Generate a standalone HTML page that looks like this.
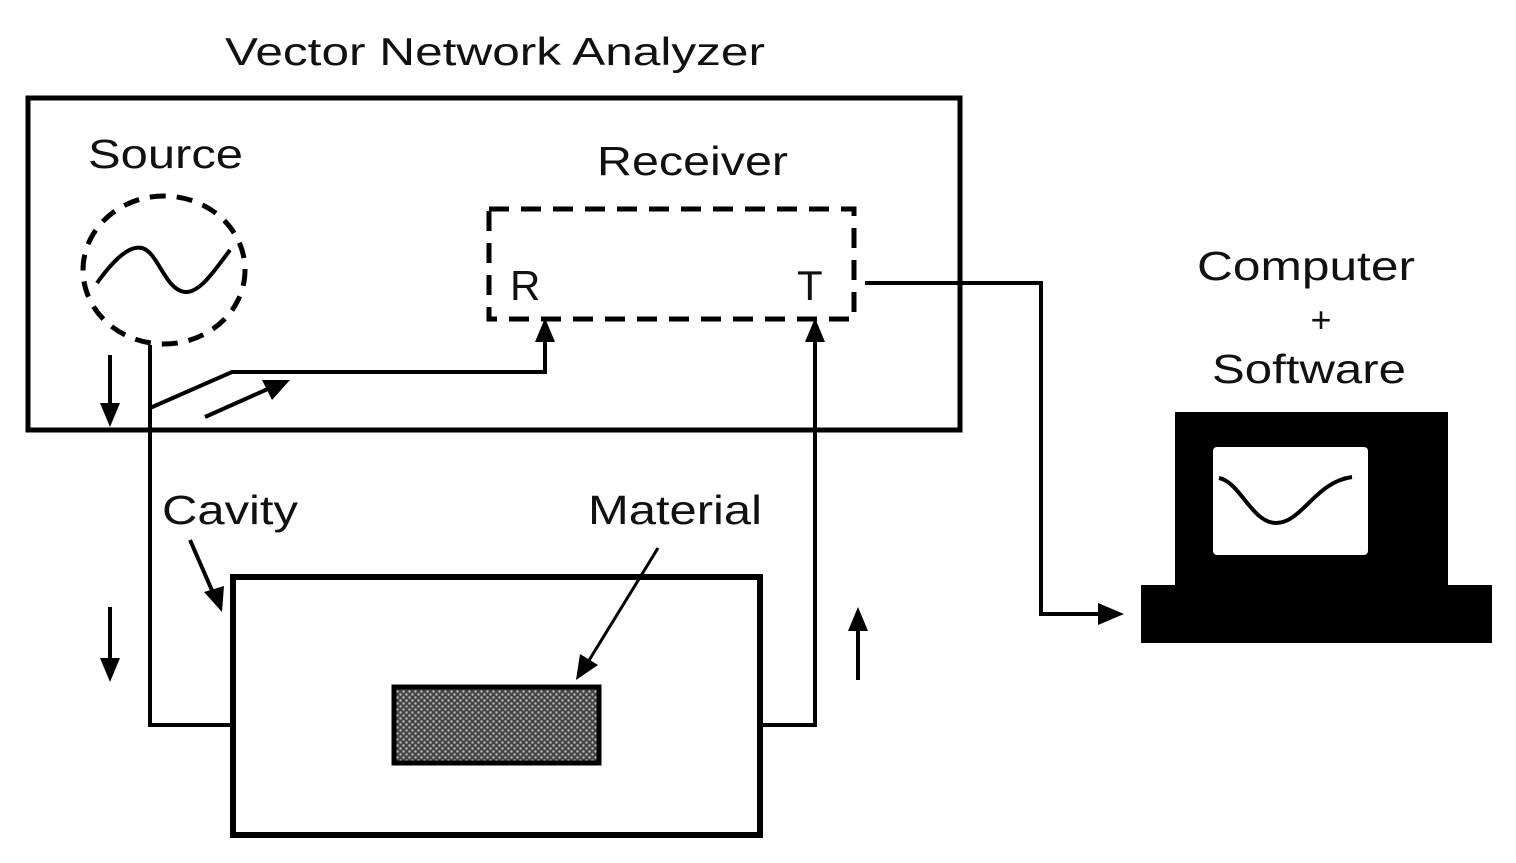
<!DOCTYPE html>
<html><head><style>
html,body{margin:0;padding:0;background:#fff;}
svg{display:block;}
text{font-family:"Liberation Sans",sans-serif;fill:#111;}
</style></head><body>
<svg width="1516" height="863" viewBox="0 0 1516 863" xmlns="http://www.w3.org/2000/svg">
<defs>
<pattern id="dots" width="6" height="6" patternUnits="userSpaceOnUse">
<rect width="6" height="6" fill="#444"/>
<circle cx="1.5" cy="1.5" r="1.2" fill="#bbb"/>
<circle cx="4.5" cy="4.5" r="1.2" fill="#bbb"/>
</pattern>
</defs>
<text x="225" y="65" font-size="39" textLength="540" lengthAdjust="spacingAndGlyphs">Vector Network Analyzer</text>
<rect x="28" y="98" width="932" height="332" fill="none" stroke="#000" stroke-width="5"/>
<text x="88" y="168" font-size="41" textLength="155" lengthAdjust="spacingAndGlyphs">Source</text>
<text x="597" y="175" font-size="41" textLength="191" lengthAdjust="spacingAndGlyphs">Receiver</text>
<ellipse cx="164" cy="270" rx="81" ry="74" fill="none" stroke="#000" stroke-width="5" stroke-dasharray="16,11"/>
<path d="M97,283 C115,258 130,245 142,248 C158,252 165,290 185,292 C200,293 215,270 230,250" fill="none" stroke="#000" stroke-width="4"/>
<rect x="489" y="209" width="365" height="110" fill="none" stroke="#000" stroke-width="5" stroke-dasharray="20,12"/>
<text x="510" y="300" font-size="42">R</text>
<text x="797" y="300" font-size="42">T</text>
<polyline points="150,345 150,725 233,725" fill="none" stroke="#000" stroke-width="4"/>
<polyline points="150,408 232,372 545,372 545,335" fill="none" stroke="#000" stroke-width="4"/>
<polygon points="545,318 535,342 555,342" fill="#000"/>
<polyline points="760,725 815,725 815,335" fill="none" stroke="#000" stroke-width="4"/>
<polygon points="815,318 805,342 825,342" fill="#000"/>
<polyline points="865,283 1041,283 1041,614 1100,614" fill="none" stroke="#000" stroke-width="4"/>
<polygon points="1124,614 1098,603 1098,625" fill="#000"/>
<line x1="110" y1="355" x2="110" y2="405" stroke="#000" stroke-width="4"/>
<polygon points="110,427 100,403 120,403" fill="#000"/>
<line x1="110" y1="607" x2="110" y2="660" stroke="#000" stroke-width="4"/>
<polygon points="110,682 100,658 120,658" fill="#000"/>
<line x1="858" y1="680" x2="858" y2="630" stroke="#000" stroke-width="4"/>
<polygon points="858,607 848,631 868,631" fill="#000"/>
<line x1="205" y1="417" x2="270" y2="388" stroke="#000" stroke-width="4"/>
<polygon points="290,380 262,380 272,400" fill="#000"/>
<text x="162" y="524" font-size="41" textLength="136" lengthAdjust="spacingAndGlyphs">Cavity</text>
<text x="588" y="524" font-size="41" textLength="174" lengthAdjust="spacingAndGlyphs">Material</text>
<line x1="190" y1="540" x2="214" y2="595" stroke="#000" stroke-width="4"/>
<polygon points="222,612 204,592 224,586" fill="#000"/>
<rect x="233" y="577" width="527" height="258" fill="#fff" stroke="#000" stroke-width="6"/>
<rect x="394" y="687" width="205" height="76" fill="url(#dots)" stroke="#000" stroke-width="5"/>
<line x1="658" y1="548" x2="588" y2="662" stroke="#000" stroke-width="3"/>
<polygon points="576,680 580,654 598,665" fill="#000"/>
<text x="1197" y="280" font-size="41" textLength="218" lengthAdjust="spacingAndGlyphs">Computer</text>
<text x="1321" y="332" font-size="36" text-anchor="middle">+</text>
<text x="1212" y="383" font-size="41" textLength="194" lengthAdjust="spacingAndGlyphs">Software</text>
<rect x="1175" y="412" width="273" height="180" fill="#000"/>
<rect x="1141" y="585" width="351" height="58" fill="#000"/>
<rect x="1213" y="447" width="155" height="108" rx="4" fill="#fff"/>
<path d="M1219,478 C1240,482 1252,523 1276,523 C1302,523 1315,482 1352,477" fill="none" stroke="#000" stroke-width="4"/>
</svg>
</body></html>
